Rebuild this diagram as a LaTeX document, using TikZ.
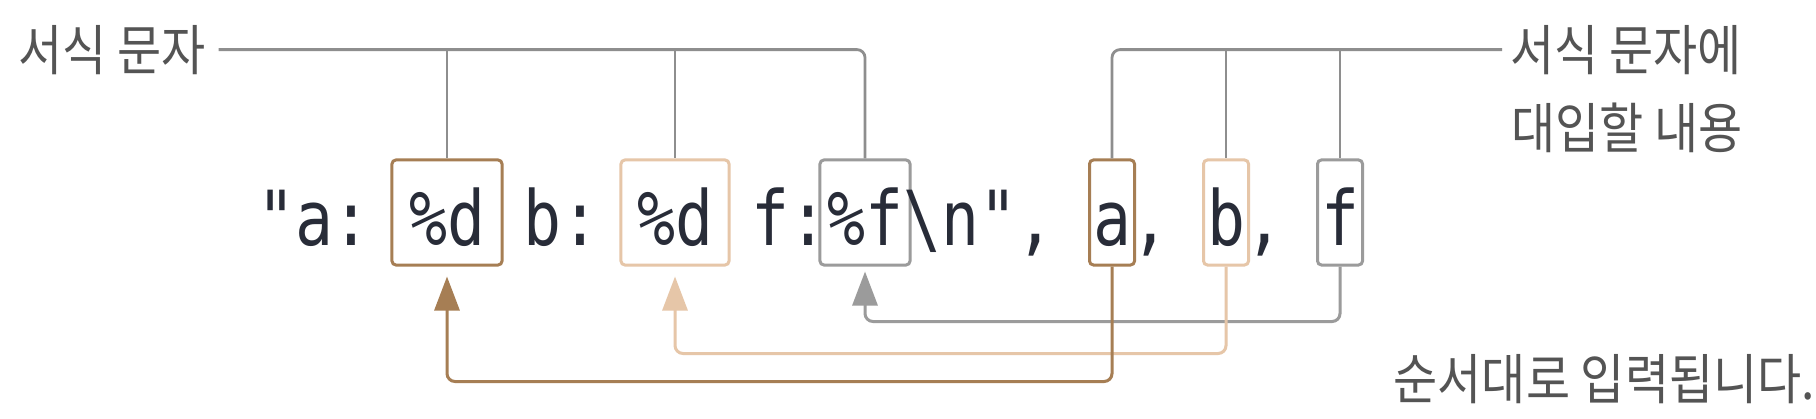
\documentclass[tikz,border=0pt]{standalone}
\usepackage{fontspec}
\usepackage{xcolor}
\usetikzlibrary{arrows.meta}
\newfontfamily\codefont[FakeStretch=0.83]{DejaVu Sans Mono}
\newfontfamily\krfont[FakeStretch=0.88]{Noto Sans CJK KR}
\definecolor{codeC}{RGB}{40,44,56}
\definecolor{lblC}{RGB}{84,84,84}
\definecolor{lineC}{RGB}{142,142,142}
\definecolor{brownC}{RGB}{166,126,84}
\definecolor{tanC}{RGB}{230,198,168}
\definecolor{grayC}{RGB}{155,155,155}

\begin{document}
\begin{tikzpicture}[x=0.01cm,y=-0.01cm]
\tikzset{codetxt/.style={font=\codefont\fontsize{21.6pt}{26pt}\selectfont,text=codeC,inner sep=0pt,anchor=base}}
\tikzset{cbox/.style={codetxt,draw=#1,line width=0.03cm,rounded corners=0.04cm,text height=0.85cm,text depth=0.2cm}}
\tikzset{lbl/.style={font=\krfont\fontsize{15.5pt}{18pt}\selectfont,text=lblC,inner sep=0pt,anchor=base west}}
\tikzset{bracket/.style={draw=lineC,line width=0.028cm,rounded corners=0.08cm}}
\tikzset{backarrow/.style={draw=#1,line width=0.03cm,rounded corners=0.08cm,-{Triangle[length=0.34cm,width=0.25cm,fill=#1]}}}

\useasboundingbox (0,0) rectangle (1816,418);
\fill[white] (0,0) rectangle (1816,418);

\node[codetxt] (qa) at (314,245) {"a:};
\node[cbox=brownC,minimum width=1.1cm] (fmt1) at (447,245) {\%d};
\node[codetxt] (qb) at (561,245) {b:};
\node[cbox=tanC,minimum width=1.08cm] (fmt2) at (675,245) {\%d};
\node[codetxt] (qf) at (789,245) {f:};
\node[cbox=grayC,minimum width=0.9cm] (fmt3) at (865,245) {\%f};
\node[codetxt] (qn) at (979,245) {\textbackslash n",};
\node[cbox=brownC,minimum width=0.45cm] (va) at (1112,245) {a};
\node[codetxt] (ca) at (1150,245) {,};
\node[cbox=tanC,minimum width=0.45cm] (vb) at (1226,245) {b};
\node[codetxt] (cb) at (1264,245) {,};
\node[cbox=grayC,minimum width=0.45cm] (vf) at (1340,245) {f};

\node[lbl] (lblL) at (18,70) {서식 문자};
\node[lbl] (lblR1) at (1510,70) {서식 문자에};
\node[lbl] (lblR2) at (1511,148) {대입할 내용};
\node[lbl] (lblB) at (1393,399) {순서대로 입력됩니다.};

\draw[bracket] ([xshift=.12cm]lblL.east) -| (fmt3.north);
\draw[bracket] (fmt1.north |- lblL.east) -- (fmt1.north);
\draw[bracket] (fmt2.north |- lblL.east) -- (fmt2.north);
\draw[bracket] ([xshift=-.08cm]lblR1.west) -| (va.north);
\draw[bracket] (vb.north |- lblR1.west) -- (vb.north);
\draw[bracket] (vf.north |- lblR1.west) -- (vf.north);

\draw[backarrow=grayC] (vf.south) -- ++(0,55) -| ([yshift=-.05cm]fmt3.south);
\draw[backarrow=tanC] (vb.south) -- ++(0,87) -| ([yshift=-.1cm]fmt2.south);
\draw[backarrow=brownC] (va.south) -- ++(0,115) -| ([yshift=-.1cm]fmt1.south);

\end{tikzpicture}
\end{document}
